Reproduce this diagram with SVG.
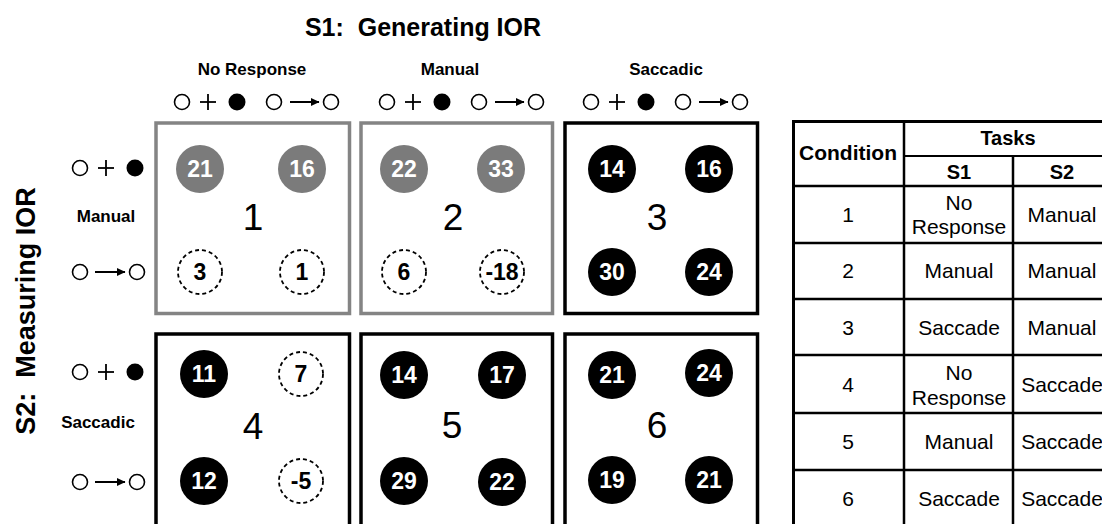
<svg xmlns="http://www.w3.org/2000/svg" width="1102" height="524" viewBox="0 0 1102 524">
<style>
text{font-family:"Liberation Sans",Arial,sans-serif;}
.title{font-size:25px;font-weight:bold;text-anchor:middle;white-space:pre;}
.hdr{font-size:17px;font-weight:bold;text-anchor:middle;}
.big{font-size:37px;text-anchor:middle;}
.wn{font-size:23px;font-weight:bold;fill:#fff;text-anchor:middle;}
.bn{font-size:23px;font-weight:bold;fill:#000;text-anchor:middle;}
.gbox{fill:#fff;stroke:#848484;stroke-width:3.5;}
.kbox{fill:#fff;stroke:#000;stroke-width:3.5;}
.gc{fill:#7b7b7b;}
.kc{fill:#000;}
.dc{fill:none;stroke:#000;stroke-width:1.8;stroke-dasharray:4 3;}
.oc{fill:#fff;stroke:#000;stroke-width:1.6;}
.fc{fill:#000;}
.pl{stroke:#000;stroke-width:1.8;}
.ar{stroke:#000;stroke-width:2;marker-end:url(#ah);}
.tl{stroke:#000;stroke-width:2.5;}
.tt{stroke:#000;stroke-width:1.8;}
.th{font-size:20px;font-weight:bold;text-anchor:middle;}
.td{font-size:21px;text-anchor:middle;}
</style>
<defs>
<marker id="ah" markerUnits="userSpaceOnUse" markerWidth="9" markerHeight="9" refX="8" refY="4.5" orient="auto">
<path d="M0,0.5 L8.5,4.5 L0,8.5 Z" fill="#000"/>
</marker>
<g id="sym-plus">
<circle cx="0" cy="0" r="7.5" class="oc"/>
<line x1="18" y1="0" x2="34" y2="0" class="pl"/>
<line x1="26" y1="-8" x2="26" y2="8" class="pl"/>
<circle cx="55" cy="0" r="8.5" class="fc"/>
</g>
</defs>

<text class="title" x="423" y="36" xml:space="preserve">S1:  Generating IOR</text>
<text class="title" transform="translate(35,311) rotate(-90)" style="font-size:27px" xml:space="preserve">S2:  Measuring IOR</text>

<g id="col-headers">
<text class="hdr" x="252" y="75">No Response</text>
<text class="hdr" x="450" y="75">Manual</text>
<text class="hdr" x="666" y="75">Saccadic</text>
</g>

<g id="top-symbols">
<use href="#sym-plus" x="182" y="102"/>
<circle cx="274" cy="102" r="7.5" class="oc"/><circle cx="331" cy="102" r="7.5" class="oc"/>
<use href="#sym-plus" x="387" y="102"/>
<circle cx="479" cy="102" r="7.5" class="oc"/><circle cx="536" cy="102" r="7.5" class="oc"/>
<use href="#sym-plus" x="591" y="102"/>
<circle cx="683" cy="102" r="7.5" class="oc"/><circle cx="740" cy="102" r="7.5" class="oc"/>
</g>

<g id="row-labels">
<use href="#sym-plus" x="80" y="168"/>
<text class="hdr" x="106" y="222">Manual</text>
<circle cx="80" cy="272" r="7.5" class="oc"/><circle cx="137" cy="272" r="7.5" class="oc"/>
<use href="#sym-plus" x="80" y="372"/>
<text class="hdr" x="98" y="428">Saccadic</text>
<circle cx="80" cy="482" r="7.5" class="oc"/><circle cx="137" cy="482" r="7.5" class="oc"/>
</g>

<g id="connectors">
<line x1="290" y1="102" x2="319" y2="102" class="ar"/>
<line x1="495" y1="102" x2="524" y2="102" class="ar"/>
<line x1="699" y1="102" x2="728" y2="102" class="ar"/>
<line x1="95" y1="272" x2="125" y2="272" class="ar"/>
<line x1="95" y1="482" x2="125" y2="482" class="ar"/>
</g>

<g id="cond1">
<rect x="156" y="123" width="193.5" height="190.5" class="gbox"/>
<circle cx="200" cy="169" r="24" class="gc"/><text class="wn" x="200" y="177">21</text>
<circle cx="302" cy="169" r="24" class="gc"/><text class="wn" x="302" y="177">16</text>
<circle cx="200" cy="272" r="22" class="dc"/><text class="bn" x="200" y="280">3</text>
<circle cx="302" cy="272" r="22" class="dc"/><text class="bn" x="302" y="280">1</text>
<text class="big" x="253" y="230">1</text>
</g>

<g id="cond2">
<rect x="361" y="123" width="191.5" height="190.5" class="gbox"/>
<circle cx="404" cy="169" r="24" class="gc"/><text class="wn" x="404" y="177">22</text>
<circle cx="501" cy="169" r="24" class="gc"/><text class="wn" x="501" y="177">33</text>
<circle cx="404" cy="272" r="22" class="dc"/><text class="bn" x="404" y="280">6</text>
<circle cx="502" cy="272" r="22" class="dc"/><text class="bn" x="502" y="280">-18</text>
<text class="big" x="453" y="230">2</text>
</g>

<g id="cond3">
<rect x="565" y="123" width="192.5" height="190.5" class="kbox"/>
<circle cx="612" cy="169" r="24" class="kc"/><text class="wn" x="612" y="177">14</text>
<circle cx="709" cy="169" r="24" class="kc"/><text class="wn" x="709" y="177">16</text>
<circle cx="612" cy="272" r="24" class="kc"/><text class="wn" x="612" y="280">30</text>
<circle cx="709" cy="272" r="24" class="kc"/><text class="wn" x="709" y="280">24</text>
<text class="big" x="657" y="230">3</text>
</g>

<g id="cond4">
<rect x="156" y="334" width="193.5" height="200" class="kbox"/>
<circle cx="204" cy="374" r="24" class="kc"/><text class="wn" x="204" y="382">11</text>
<circle cx="301" cy="374" r="22" class="dc"/><text class="bn" x="301" y="382">7</text>
<circle cx="204" cy="481" r="24" class="kc"/><text class="wn" x="204" y="489">12</text>
<circle cx="301" cy="481" r="22" class="dc"/><text class="bn" x="301" y="489">-5</text>
<text class="big" x="253" y="439">4</text>
</g>

<g id="cond5">
<rect x="361" y="334" width="191.5" height="200" class="kbox"/>
<circle cx="404" cy="375" r="24" class="kc"/><text class="wn" x="404" y="383">14</text>
<circle cx="502" cy="375" r="24" class="kc"/><text class="wn" x="502" y="383">17</text>
<circle cx="404" cy="481" r="24" class="kc"/><text class="wn" x="404" y="489">29</text>
<circle cx="502" cy="482" r="24" class="kc"/><text class="wn" x="502" y="490">22</text>
<text class="big" x="452" y="438">5</text>
</g>

<g id="cond6">
<rect x="565" y="334" width="192.5" height="200" class="kbox"/>
<circle cx="612" cy="375" r="24" class="kc"/><text class="wn" x="612" y="383">21</text>
<circle cx="709" cy="373" r="24" class="kc"/><text class="wn" x="709" y="381">24</text>
<circle cx="612" cy="480" r="24" class="kc"/><text class="wn" x="612" y="488">19</text>
<circle cx="709" cy="480" r="24" class="kc"/><text class="wn" x="709" y="488">21</text>
<text class="big" x="657" y="438">6</text>
</g>

<g id="table">
<rect x="793.5" y="121.5" width="320" height="410" fill="#fff" stroke="#000" stroke-width="3"/>
<line x1="904" y1="121" x2="904" y2="530" class="tl"/>
<line x1="1013" y1="156" x2="1013" y2="530" class="tl"/>
<line x1="904" y1="156" x2="1112" y2="156" class="tt"/>
<line x1="793" y1="186" x2="1112" y2="186" class="tl"/>
<line x1="793" y1="243" x2="1112" y2="243" class="tl"/>
<line x1="793" y1="299" x2="1112" y2="299" class="tl"/>
<line x1="793" y1="355" x2="1112" y2="355" class="tl"/>
<line x1="793" y1="413" x2="1112" y2="413" class="tl"/>
<line x1="793" y1="470" x2="1112" y2="470" class="tl"/>
<text class="th" x="848" y="160" style="font-size:21px">Condition</text>
<text class="th" x="1008" y="145">Tasks</text>
<text class="th" x="959" y="179">S1</text>
<text class="th" x="1062" y="179">S2</text>
<text class="td" x="848" y="222">1</text>
<text class="td" x="959" y="210">No</text>
<text class="td" x="959" y="234">Response</text>
<text class="td" x="1062" y="222">Manual</text>
<text class="td" x="848" y="278">2</text>
<text class="td" x="959" y="278">Manual</text>
<text class="td" x="1062" y="278">Manual</text>
<text class="td" x="848" y="335">3</text>
<text class="td" x="959" y="335">Saccade</text>
<text class="td" x="1062" y="335">Manual</text>
<text class="td" x="848" y="392">4</text>
<text class="td" x="959" y="380">No</text>
<text class="td" x="959" y="405">Response</text>
<text class="td" x="1062" y="392">Saccade</text>
<text class="td" x="848" y="449">5</text>
<text class="td" x="959" y="449">Manual</text>
<text class="td" x="1062" y="449">Saccade</text>
<text class="td" x="848" y="506">6</text>
<text class="td" x="959" y="506">Saccade</text>
<text class="td" x="1062" y="506">Saccade</text>
</g>
</svg>
